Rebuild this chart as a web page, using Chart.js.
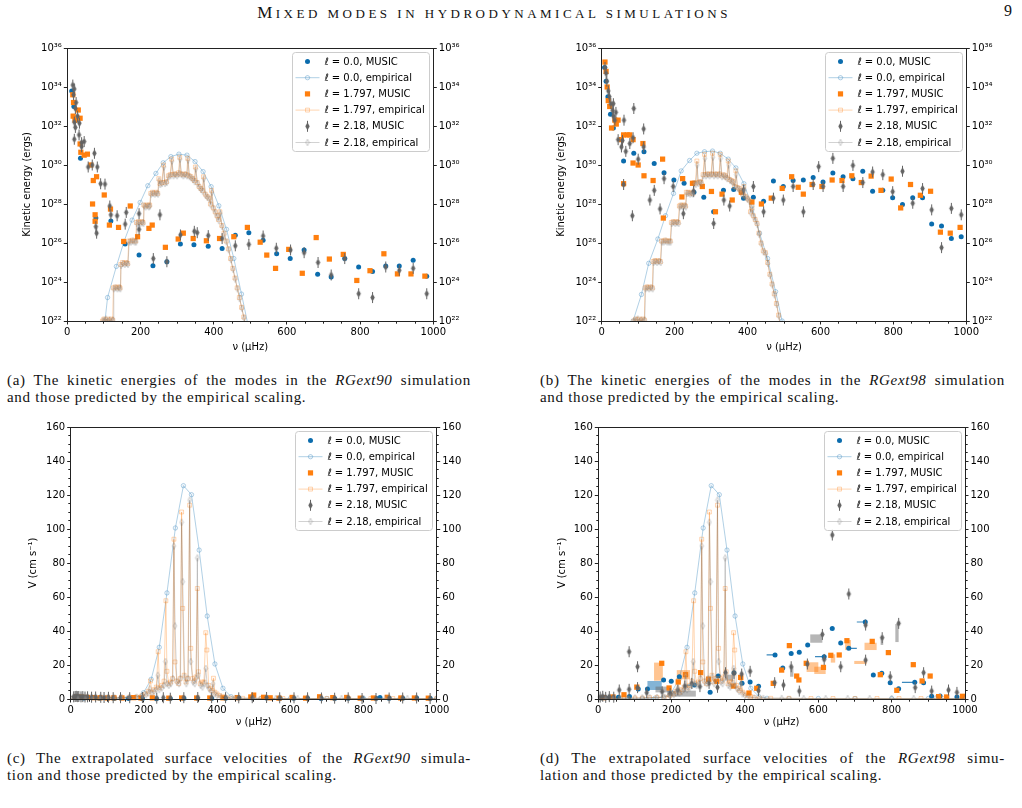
<!DOCTYPE html>
<html><head><meta charset="utf-8">
<script src="https://cdn.jsdelivr.net/npm/chart.js@4.4.1/dist/chart.umd.min.js"></script>
<style>
html,body{margin:0;padding:0;background:#fff;}
body{width:1022px;height:808px;position:relative;overflow:hidden;}
canvas.cv{position:absolute;}
#hdr{position:absolute;left:0;top:3px;width:988px;text-align:center;font:13px 'Liberation Serif',serif;letter-spacing:3.5px;color:#111;white-space:nowrap;}
#hdr .big{font-size:17px;}
#pg{position:absolute;left:1004px;top:2px;font:16px 'Liberation Serif',serif;color:#111;}
.cap{position:absolute;font:15px/17px 'Liberation Serif',serif;letter-spacing:0.7px;color:#111;}
.cap .j{display:block;text-align:justify;text-align-last:justify;}
</style></head>
<body>
<div id="hdr"><span class="big">M</span>IXED MODES IN HYDRODYNAMICAL SIMULATIONS</div>
<div id="pg">9</div>
<canvas id="cA" class="cv" width="500" height="330" style="left:0;top:30px"></canvas>
<canvas id="cB" class="cv" width="500" height="330" style="left:520px;top:30px"></canvas>
<canvas id="cC" class="cv" width="500" height="330" style="left:0;top:410px"></canvas>
<canvas id="cD" class="cv" width="500" height="330" style="left:520px;top:410px"></canvas>
<div class="cap" style="left:7px;top:372px;width:464px"><span class="j">(a) The kinetic energies of the modes in the <i>RGext90</i> simulation</span>and those predicted by the empirical scaling.</div>
<div class="cap" style="left:540px;top:372px;width:465px"><span class="j">(b) The kinetic energies of the modes in the <i>RGext98</i> simulation</span>and those predicted by the empirical scaling.</div>
<div class="cap" style="left:7px;top:750px;width:464px"><span class="j">(c) The extrapolated surface velocities of the <i>RGext90</i> simula-</span>tion and those predicted by the empirical scaling.</div>
<div class="cap" style="left:540px;top:750px;width:465px"><span class="j">(d) The extrapolated surface velocities of the <i>RGext98</i> simu-</span>lation and those predicted by the empirical scaling.</div>
<script>
// ---------- tick labels ----------
const nuTicks = [0, 200, 400, 600, 800, 1000];
const nuMinor = [50, 100, 150, 250, 300, 350, 450, 500, 550, 650, 700, 750, 850, 900, 950];
const keExp = [22, 24, 26, 28, 30, 32, 34, 36];
const vTicks = [0, 20, 40, 60, 80, 100, 120, 140, 160];
const vMinor = [5, 10, 15, 25, 30, 35, 45, 50, 55, 65, 70, 75, 85, 90, 95, 105, 110, 115, 125, 130, 135, 145, 150, 155];
const legendLabels = ['ℓ = 0.0, MUSIC', 'ℓ = 0.0, empirical', 'ℓ = 1.797, MUSIC', 'ℓ = 1.797, empirical', 'ℓ = 2.18, MUSIC', 'ℓ = 2.18, empirical'];

// ---------- (a) RGext90 kinetic energy [nu, E] ----------
const aMusicL0 = [[12,6.3e33],[18,1e33],[25,2e32],[36,2.2e30],[78,1.9e27],[119,1.35e27],[158,8.9e25],[196,2.4e25],[234,6.9e24],[272,1.1e25],[309,8.9e25],[346,8.1e25],[385,6.9e25],[423,5.2e25],[459,2.5e26],[496,3.4e26],[535,1.4e26],[572,2.8e25],[609,1.6e25],[647,4.4e25],[684,2.5e24],[721,1.8e24],[758,1.6e25],[796,5.9e24],[834,3.5e24],[870,6.6e24],[907,6.6e24],[945,1.3e25],[982,2e24]];
const aMusicL1 = [[15,4e33],[17,1.6e33],[16,3.2e32],[30,6.6e32],[21,2e32],[35,2.5e32],[35,1.2e31],[37,4.5e30],[46,3.2e30],[55,3.6e30],[64,1e30],[71,1.6e29],[80,2.5e29],[101,2.9e28],[69,1e28],[76,2.8e27],[76,1.3e27],[118,5.5e27],[115,8.3e26],[140,6.3e26],[172,7.9e27],[154,1.2e26],[192,2.1e26],[223,5.6e26],[232,8.3e26],[268,6e25],[303,1.6e26],[317,3.2e26],[344,1.7e26],[380,1.3e26],[416,1.7e26],[455,2.1e26],[492,6.3e26],[527,1.1e26],[545,2.4e25],[569,5e24],[605,4.7e25],[642,2.8e24],[680,1.9e26],[716,1.5e25],[754,2.6e25],[791,1.2e24],[827,3.8e24],[865,2.8e25],[902,2.6e24],[939,2.6e24],[977,2e24]];
const aMusicL2 = [[15,1.26e34],[19,7.9e33],[17,4e33],[24,1.6e33],[22,7.9e32],[28,3.2e32],[19,1.6e32],[22,8.5e31],[33,1.4e32],[19,2.1e31],[32,3.5e31],[39,1.4e31],[46,1.6e31],[39,8.7e30],[74,4e30],[57,7.9e29],[68,1e30],[82,7.9e29],[91,1.1e29],[103,1.05e29],[116,7.9e27],[119,2.8e27],[136,2.5e27],[161,3.7e27],[196,3.2e27],[253,2.8e27],[78,6.9e26],[80,3.2e26],[158,9.3e26],[196,5e26],[235,1.6e25],[272,1.1e25],[309,2.6e26],[347,4e26],[355,3.4e26],[385,2.4e26],[423,1.7e26],[459,7.2e25],[496,8.5e25],[535,2.3e26],[571,5.4e25],[610,4.4e25],[647,3.2e25],[685,1e25],[721,2.3e24],[758,1.6e25],[796,2.5e23],[834,1.6e23],[870,5.9e24],[907,4e24],[945,5e24],[982,2.5e23]];
const aEmpL0 = [[97,3e20],[103,1e22],[110,1.6e23],[134,6.3e24],[155,1.2e26],[177,1.5e27],[199,1.2e28],[220,8.7e28],[242,3.7e29],[262,1.3e30],[283,2.7e30],[305,3.6e30],[327,3.2e30],[349,1.5e30],[371,4.6e29],[393,7.8e28],[414,8.1e27],[435,5e26],[455,1.6e25],[476,2.4e23],[497,3.2e21],[510,1e20]];
const aEmpL1 = [[96,1e22],[100,1.26e22],[105,1.12e22],[110,1.26e22],[115,1e22],[120,1.26e22],[124,1.12e22],[126,5e23],[131,5.6e23],[136,5e23],[141,5.6e23],[144,5e23],[146,7.9e24],[151,1e25],[156,8.9e24],[161,1e25],[165,8.9e24],[168,1.26e26],[173,1.26e26],[178,1.4e26],[183,1.26e26],[187,1.26e26],[189,1.12e27],[194,1.26e27],[199,1.12e27],[204,1.26e27],[207,1.12e27],[209,8.9e27],[213,7.9e27],[218,8.9e27],[222,7.9e27],[225,8.9e27],[228,3.5e28],[233,4e28],[238,3.5e28],[243,4e28],[247,3.5e28],[250,2e29],[253,1.12e29],[258,1.26e29],[263,1e30],[266,1.26e29],[271,1.4e29],[276,2.8e29],[281,3.2e29],[285,2e30],[289,3.2e29],[294,3.5e29],[299,3.2e29],[304,4e29],[307,2.5e30],[311,3.5e29],[316,3.2e29],[321,3.5e29],[326,3.2e29],[329,2.2e30],[333,2.8e29],[338,2.5e29],[343,2e29],[347,1.6e29],[350,7.9e29],[355,1.26e29],[360,7.9e28],[365,6.3e28],[369,5e28],[372,2.5e29],[377,3.2e28],[382,2.5e28],[387,2e28],[391,1e28],[394,5e28],[399,6.3e27],[404,4e27],[409,2.5e27],[413,1.6e27],[417,4e27],[422,7.9e26],[428,3.2e26],[434,1.26e26],[440,5e25],[446,1.6e25],[452,5e24],[458,1.6e24],[464,5e23],[470,1.6e23],[476,5e22],[482,1.6e22],[488,4e21]];
const aEmpL2 = [[97,1e22],[101,1.12e22],[106,1.26e22],[111,1e22],[116,1.12e22],[121,1e22],[125,1.12e22],[127,4.5e23],[132,5e23],[137,4.5e23],[142,5e23],[145,4.5e23],[147,7.1e24],[152,8.9e24],[157,7.9e24],[162,8.9e24],[166,7.9e24],[169,1.12e26],[174,1.12e26],[179,1.26e26],[184,1.12e26],[188,1.12e26],[190,1e27],[195,1.12e27],[200,1e27],[205,1.12e27],[208,1e27],[210,7.9e27],[214,7.1e27],[219,7.9e27],[223,7.1e27],[226,7.9e27],[229,3.2e28],[234,3.5e28],[239,3.2e28],[244,3.5e28],[248,3.2e28],[251,1.6e29],[254,1e29],[259,1.12e29],[264,7.9e29],[267,1.12e29],[272,1.26e29],[277,2.5e29],[282,2.8e29],[286,1.6e30],[290,2.8e29],[295,3.2e29],[300,2.8e29],[305,3.5e29],[308,2e30],[312,3.2e29],[317,2.8e29],[322,3.2e29],[327,2.8e29],[330,1.8e30],[334,2.5e29],[339,2.2e29],[344,1.8e29],[348,1.4e29],[351,6.3e29],[356,1.12e29],[361,7.1e28],[366,5.6e28],[370,4.5e28],[373,2e29],[378,2.8e28],[383,2.2e28],[388,1.8e28],[392,8.9e27],[395,4e28],[400,5.6e27],[405,3.5e27],[410,2.2e27],[414,1.4e27],[418,3.2e27],[423,7.1e26],[429,2.8e26],[435,1.12e26],[441,4.5e25],[447,1.4e25],[453,4.5e24],[459,1.4e24],[465,4.5e23],[471,1.4e23],[477,4.5e22],[483,1.4e22],[489,3.5e21]];

// ---------- (b) RGext98 kinetic energy [nu, E] ----------
const bMusicL0 = [[8,1e35],[12,2e34],[17,3.2e33],[24,4e32],[32,7.9e31],[60,1.6e30],[88,4e30],[116,4.8e30],[144,1.2e30],[171,4e29],[198,1.7e29],[226,1.15e29],[253,4e28],[280,2.2e28],[307,4e27],[334,5e28],[362,5.6e28],[389,2e28],[416,2.2e28],[444,1.4e28],[471,1.5e29],[498,7.8e28],[525,1.6e29],[553,1.7e29],[580,2.3e29],[607,1.35e29],[634,3.9e29],[662,2.5e29],[689,2e29],[716,4.8e29],[743,4.5e28],[771,5e28],[798,2.1e28],[825,9.5e27],[853,2.1e28],[880,2.1e28],[905,9.3e26],[932,7.4e26],[959,1.7e26],[986,2.1e26]];
const bMusicL1 = [[9,1.9e35],[12,6.3e34],[15,1e34],[18,2e33],[22,1e33],[27,7.9e31],[36,2e32],[40,1.26e32],[45,2e32],[54,2e31],[60,3.5e31],[70,3.5e31],[77,3.5e31],[86,2e31],[86,1.26e30],[100,1e30],[113,1.26e31],[116,2.8e29],[141,1.6e29],[167,2e30],[169,1.9e27],[60,1.1e29],[220,2.3e28],[222,2e29],[249,1.15e29],[276,7.9e28],[301,4.4e28],[312,4e27],[330,3.2e28],[358,1.6e28],[383,4e28],[412,1.26e28],[438,1e28],[465,2e28],[495,6.3e28],[521,2.5e29],[539,7.2e28],[553,3.2e28],[577,1e29],[604,7.9e28],[632,1.7e29],[659,1.6e29],[686,2.8e29],[712,1.26e29],[739,2.7e29],[766,5e28],[794,1.9e29],[820,6.3e27],[847,1e29],[874,2.8e28],[902,4.5e28],[929,3.6e26],[956,3.2e26],[983,6.3e26]];
const bMusicL2 = [[9,1e35],[12,5e34],[14,2e34],[18,6.3e33],[21,3.2e33],[25,1.4e33],[30,6.3e32],[32,3.2e32],[36,2e32],[32,1.4e33],[39,5e32],[45,2e31],[54,8.5e30],[66,5e30],[57,1.8e31],[77,1.26e31],[88,7.9e32],[86,2.5e31],[61,2e32],[115,7.1e31],[115,8.5e30],[100,2e30],[60,1e29],[84,2.5e27],[132,1.6e28],[144,5e28],[160,5.6e27],[171,2e29],[196,7.9e28],[224,3.2e27],[252,4.5e28],[307,1e27],[335,1.6e28],[351,7.9e27],[389,5.2e28],[416,7.9e28],[444,4e27],[471,2e28],[498,1.6e28],[525,7.9e28],[553,4e27],[580,1e29],[595,8.3e29],[607,7.9e28],[634,2.2e30],[662,7.9e28],[689,9.5e29],[716,1.26e29],[743,4.4e29],[771,3.2e29],[798,4.3e28],[825,4.8e29],[853,1.1e28],[880,6.2e28],[905,5e27],[932,5.8e25],[959,6e27],[986,2.8e27]];
const bEmpL0 = [[80,3e20],[86,1e22],[109,2.3e23],[129,9.1e24],[154,1.6e26],[175,2.5e27],[197,3.5e28],[218,5e29],[241,1.7e30],[261,4e30],[282,4.8e30],[304,5.2e30],[325,4e30],[347,2e30],[368,7.1e29],[390,1.1e29],[412,7.9e27],[433,3.2e26],[455,1.6e25],[477,3.2e23],[495,1e22],[510,4e20]];
const bEmpL1 = [[88,1e22],[93,1.26e22],[98,1.12e22],[103,1.26e22],[108,1e22],[113,1.26e22],[117,1.12e22],[119,5e23],[124,5.6e23],[129,5e23],[134,5.6e23],[139,5e23],[141,1.12e25],[146,1.26e25],[151,1.12e25],[156,1.26e25],[161,1.12e25],[164,1.26e26],[169,1.26e26],[174,1.4e26],[179,1.26e26],[184,1.26e26],[188,1.26e26],[191,1.12e27],[196,1.26e27],[201,1.12e27],[206,1.26e27],[210,1.12e27],[213,7.9e27],[217,8.9e27],[222,7.9e27],[226,8.9e27],[230,7.9e27],[232,4e28],[237,4e28],[242,3.5e28],[246,4e28],[250,3.5e28],[253,1.26e29],[257,1.12e29],[261,1.6e30],[264,1.26e29],[269,1.4e29],[273,1.26e29],[278,3.2e29],[282,3.5e30],[285,3.2e29],[290,3.5e29],[295,3.2e29],[300,3.5e29],[304,4e30],[307,3.2e29],[312,3.5e29],[317,3.2e29],[322,3.5e29],[325,3.5e30],[329,2.8e29],[334,3.2e29],[339,2.8e29],[343,2.2e29],[347,1.6e30],[351,1.8e29],[356,1.6e29],[360,1.4e29],[364,7.9e28],[368,5e29],[372,7.1e28],[377,6.3e28],[381,5e28],[386,3.2e28],[390,7.9e28],[394,2.5e28],[399,2e28],[404,1.6e28],[408,4e27],[412,6.3e27],[416,2.5e27],[421,1.6e27],[426,1e27],[431,3.2e26],[437,1e26],[443,4e25],[449,3.2e25],[455,1e25],[461,2.5e24],[467,7.9e23],[473,2.5e23],[479,7.9e22],[485,2e22],[491,4e21]];
const bEmpL2 = [[89,1e22],[94,1.12e22],[99,1.26e22],[104,1e22],[109,1.12e22],[114,1e22],[118,1.12e22],[120,4.5e23],[125,5e23],[130,4.5e23],[135,5e23],[140,4.5e23],[142,1e25],[147,1.12e25],[152,1e25],[157,1.12e25],[162,1e25],[165,1.12e26],[170,1.12e26],[175,1.26e26],[180,1.12e26],[185,1.12e26],[189,1.12e26],[192,1e27],[197,1.12e27],[202,1e27],[207,1.12e27],[211,1e27],[214,7.1e27],[218,7.9e27],[223,7.1e27],[227,7.9e27],[231,7.1e27],[233,3.5e28],[238,3.5e28],[243,3.2e28],[247,3.5e28],[251,3.2e28],[254,1.12e29],[258,1e29],[262,1e30],[265,1.12e29],[270,1.26e29],[274,1.12e29],[279,2.8e29],[283,2.2e30],[286,2.8e29],[291,3.2e29],[296,2.8e29],[301,3.2e29],[305,2.5e30],[308,2.8e29],[313,3.2e29],[318,2.8e29],[323,3.2e29],[326,2.2e30],[330,2.5e29],[335,2.8e29],[340,2.5e29],[344,2e29],[348,1e30],[352,1.6e29],[357,1.4e29],[361,1.26e29],[365,7.1e28],[369,3.2e29],[373,6.3e28],[378,5.6e28],[382,4.5e28],[387,2.8e28],[391,5e28],[395,2.2e28],[400,1.8e28],[405,1.4e28],[409,3.5e27],[413,5e27],[417,2.2e27],[422,1.4e27],[427,8.9e26],[432,2.8e26],[438,8.9e25],[444,3.5e25],[450,2.8e25],[456,8.9e24],[462,2.2e24],[468,7.1e23],[474,2.2e23],[480,7.1e22],[486,1.8e22],[492,3.5e21]];

// ---------- (c) RGext90 surface velocity [nu, V] ----------
const cMusicL0 = [[12,0.9],[18,1.1],[25,0.8],[36,0.6],[78,0.4],[119,0.3],[158,0.3],[196,0.2],[234,0.2],[272,0.3],[309,0.4],[346,0.4],[385,0.3],[423,0.4],[459,0.7],[496,0.8],[535,0.6],[572,0.5],[609,0.4],[647,0.5],[684,0.3],[721,0.3],[758,0.5],[796,0.4],[834,0.4],[845,0.9],[870,0.5],[907,0.5],[945,0.6],[982,0.4]];
const cMusicL1 = [[15,1.2],[21,1.0],[30,1.1],[46,0.9],[64,0.8],[80,0.7],[101,0.6],[118,0.7],[140,0.6],[172,0.8],[192,0.6],[223,0.7],[268,0.5],[303,0.6],[344,0.6],[380,0.6],[416,0.7],[455,0.8],[492,1.2],[500,2.3],[527,1.0],[545,0.7],[569,0.5],[605,0.9],[642,0.5],[680,1.3],[716,0.8],[754,0.9],[791,0.5],[827,0.6],[865,1.0],[902,0.6],[939,0.6],[977,0.5]];
const cMusicL2 = [[8,1.3],[12,1.5],[15,1.6],[19,1.4],[22,1.5],[28,1.3],[33,1.4],[39,1.2],[46,1.3],[57,1.1],[68,1.2],[82,1.0],[91,0.9],[103,1.0],[116,0.8],[136,0.8],[161,0.8],[196,0.9],[235,0.5],[253,0.8],[272,0.5],[309,0.8],[347,0.9],[385,0.8],[423,0.8],[459,0.7],[496,0.8],[535,0.9],[571,0.7],[610,0.7],[647,0.7],[685,0.6],[721,0.5],[758,0.7],[796,0.3],[834,0.3],[870,0.6],[907,0.6],[945,0.6],[982,0.3]];
// empirical surface velocities (same scaling for both runs)
const vEmpL0 = [[0,0.2],[40,0.2],[80,0.3],[120,0.3],[155,0.5],[177,1.0],[199,3.7],[220,11.6],[242,30.4],[263,62.4],[286,100.6],[308,125.5],[330,120.2],[351,87.6],[373,48.8],[394,20.6],[416,6.3],[438,1.4],[460,0.4],[520,0.3],[600,0.3],[700,0.3],[800,0.3],[900,0.3],[1000,0.3]];
const vEmpL1 = [[0,0.3],[20,0.3],[40,0.4],[60,0.4],[80,0.5],[100,0.6],[120,0.6],[140,0.8],[160,1.0],[180,1.2],[195,2.0],[205,3.0],[212,4.5],[218,10.6],[222,4.0],[228,5.5],[234,7.0],[239,27.8],[243,6.5],[249,8.0],[255,10.5],[260,57.8],[263,16.3],[268,9.0],[273,10.0],[278,12.0],[282,94.0],[285,21.8],[290,10.5],[295,9.0],[299,12.0],[303,110.0],[306,53.3],[310,14.0],[315,10.0],[320,12.0],[325,114.0],[328,29.8],[333,12.0],[338,10.5],[342,13.0],[346,65.0],[349,16.0],[354,9.0],[359,10.0],[364,10.0],[369,39.0],[372,28.8],[377,8.0],[382,6.0],[386,5.0],[390,12.2],[394,4.0],[400,3.0],[407,2.0],[415,1.5],[425,0.8],[440,0.5],[470,0.4],[520,0.4],[580,0.3],[640,0.3],[700,0.3],[760,0.3],[820,0.3],[880,0.3],[940,0.3],[1000,0.3]];
const vEmpL2 = [[0,0.3],[20,0.4],[40,0.4],[60,0.5],[80,0.5],[100,0.6],[120,0.7],[140,0.8],[160,0.9],[180,1.1],[196,1.8],[206,2.5],[212,3.5],[216,6.0],[221,3.5],[228,4.5],[234,5.5],[238,14.0],[242,5.5],[249,6.5],[255,8.0],[259,22.0],[263,9.0],[268,8.0],[274,9.0],[279,12.0],[282,90.0],[285,43.0],[290,10.0],[296,9.0],[300,12.0],[303,104.0],[306,69.0],[311,13.0],[316,9.0],[321,12.0],[325,117.0],[328,22.0],[334,10.0],[339,9.0],[343,12.0],[346,83.0],[349,14.0],[355,8.0],[360,7.0],[365,9.0],[369,18.0],[373,8.0],[378,6.0],[384,4.5],[389,9.0],[393,3.0],[400,2.0],[410,1.2],[425,0.6],[450,0.4],[500,0.4],[560,0.3],[620,0.3],[680,0.3],[740,0.3],[800,0.3],[860,0.3],[920,0.3],[1000,0.3]];

// ---------- (d) RGext98 surface velocity [nu, V] ----------
const dMusicL0 = [[10,0.6],[30,0.8],[55,1.0],[85,1.5],[109,5.9],[134,5.9],[178,11.2],[199,10.4],[221,13.1],[262,8.2],[305,3.9],[327,13.5],[370,15.5],[392,9.2],[414,10],[437,7.5],[482,25.9],[503,18.2],[526,26.7],[548,27.5],[571,31.8],[616,24.9],[638,41.4],[661,32.9],[683,29.8],[728,45.3],[750,14.1],[773,15.1],[796,9.6],[819,6.1],[863,9.8],[887,9.6],[909,1.6],[932,1.8],[978,1.2]];
const dMusicL1 = [[15,0.8],[40,1.2],[70,2.5],[105,7],[173,21],[193,6.5],[218,10],[238,14.3],[279,15.5],[301,11.6],[323,10.4],[368,7.6],[388,12.7],[411,3.5],[432,6.3],[477,9.2],[500,17],[521,31.4],[541,13.5],[547,11.2],[567,21],[614,18.6],[634,25.7],[657,25.9],[678,34.3],[747,33.9],[769,14.3],[791,27.3],[814,5.1],[859,20.2],[883,10.6],[905,13.5],[928,1.4],[950,1.2],[993,1.6]];
const dMusicL2 = [[5,1.2],[12,1.6],[20,1.0],[30,1.4],[42,1.1],[57,5.3],[84,27.8],[84,5.7],[107,19],[107,6.7],[132,3.7],[174,4.3],[196,3.3],[217,5.3],[236,7.6],[255,9.2],[277,7.3],[302,9.2],[325,6.9],[347,15.5],[370,15.1],[391,14.7],[414,16.3],[437,4.9],[481,9.6],[505,8.2],[526,19],[548,4.7],[570,20.6],[611,38],[616,23.3],[638,96.5],[661,19],[683,61.8],[729,43.5],[729,22.9],[774,36.1],[796,13.1],[819,44.5],[864,6.7],[887,15.5],[909,4.7],[955,5.3],[978,3.9]];
// uncertainty boxes [nu1, nu2, V1, V2] and horizontal bars [nu1, nu2, V]
const dBoxL0 = [[134,173,5.3,10.6]];
const dBoxL1 = [[152,176,10.8,21.4],[726,759,28.8,33.1],[568,600,15.9,21.6],[589,620,14.7,19],[698,732,20.6,22.4],[673,689,28.8,34.7],[634,646,21.4,26.3],[214,250,11.6,17]];
const dBoxL2 = [[578,611,33.1,38],[810,819,33.5,44.1],[156,196,3.9,7.3],[188,266,1.4,4.9],[346,368,10.8,14.3],[523,532,13.1,19],[770,777,31.8,36.7]];
const dBarL0 = [[459,482,25.9],[705,728,45.3],[591,616,24.9],[683,705,29.8],[828,863,9.8],[241,262,8.2]];

// ---------- styling ----------
const C_BLUE = '#0b6cad', C_ORANGE = '#ff7f0e', C_GRAY = '#646464';
const E_BLUE = 'rgba(31,119,180,0.35)', E_ORANGE = 'rgba(255,127,14,0.32)', E_GRAY = 'rgba(95,95,95,0.28)';
const SUP = {'0':'⁰','1':'¹','2':'²','3':'³','4':'⁴','5':'⁵','6':'⁶','7':'⁷','8':'⁸','9':'⁹','-':'⁻'};
const sup = n => String(n).split('').map(c => SUP[c]).join('');

function diamondImg(fill, stroke, w, h, ext, lw) {
  const c = document.createElement('canvas');
  const W = Math.ceil(w + 2), H = Math.ceil(h + 2 * ext + 2);
  c.width = W; c.height = H;
  const g = c.getContext('2d');
  const cx = W / 2, cy = H / 2;
  if (ext) { g.strokeStyle = fill; g.lineWidth = 1; g.beginPath(); g.moveTo(cx, cy - h / 2 - ext); g.lineTo(cx, cy + h / 2 + ext); g.stroke(); }
  g.beginPath(); g.moveTo(cx, cy - h / 2); g.lineTo(cx + w / 2, cy); g.lineTo(cx, cy + h / 2); g.lineTo(cx - w / 2, cy); g.closePath();
  if (fill) { g.fillStyle = fill; g.fill(); }
  if (stroke) { g.strokeStyle = stroke; g.lineWidth = lw; g.stroke(); }
  return c;
}
const mkDiamond = diamondImg(C_GRAY, null, 4.4, 8, 1.5, 0);
const mkDiamondEmp = diamondImg('rgba(200,200,200,0.25)', 'rgba(100,100,100,0.35)', 3.6, 6.5, 0, 0.8);

const S = {
  m0: {pointStyle: 'circle', pointRadius: 2.5, backgroundColor: C_BLUE, pointBackgroundColor: C_BLUE, pointBorderWidth: 0, borderWidth: 0},
  m1: {pointStyle: 'rect', pointRadius: 3.7, backgroundColor: C_ORANGE, pointBackgroundColor: C_ORANGE, pointBorderWidth: 0, borderWidth: 0},
  m2: {pointStyle: mkDiamond, pointRadius: 4, pointBorderWidth: 0, borderWidth: 0},
  e0: {showLine: true, borderColor: E_BLUE, borderWidth: 1, pointStyle: 'circle', pointRadius: 2.2, pointBorderColor: E_BLUE, pointBackgroundColor: 'rgba(31,119,180,0.06)', pointBorderWidth: 0.9},
  e1: {showLine: true, borderColor: E_ORANGE, borderWidth: 1, pointStyle: 'rect', pointRadius: 2.8, pointBorderColor: E_ORANGE, pointBackgroundColor: 'rgba(255,127,14,0.06)', pointBorderWidth: 0.9},
  e2: {showLine: true, borderColor: E_GRAY, borderWidth: 1, pointStyle: mkDiamondEmp, pointRadius: 3, pointBorderWidth: 0}
};
const legendEntries = [
  {label: legendLabels[0], marker: {t: 'circle', r: 2.5, fill: C_BLUE}},
  {label: legendLabels[1], line: E_BLUE, marker: {t: 'circle', r: 2.2, fill: 'rgba(31,119,180,0.06)', stroke: E_BLUE}},
  {label: legendLabels[2], marker: {t: 'square', s: 5.2, fill: C_ORANGE}},
  {label: legendLabels[3], line: E_ORANGE, marker: {t: 'square', s: 4, fill: 'rgba(255,127,14,0.06)', stroke: E_ORANGE}},
  {label: legendLabels[4], marker: {t: 'img', img: mkDiamond}},
  {label: legendLabels[5], line: E_GRAY, marker: {t: 'img', img: mkDiamondEmp}}
];

const align = p => Math.round(p - 0.5) + 0.5;
function drawMarker(ctx, m, x, y) {
  ctx.save();
  if (m.t === 'circle') {
    ctx.beginPath(); ctx.arc(x, y, m.r, 0, Math.PI * 2);
    if (m.fill) { ctx.fillStyle = m.fill; ctx.fill(); }
    if (m.stroke) { ctx.strokeStyle = m.stroke; ctx.lineWidth = 0.9; ctx.stroke(); }
  } else if (m.t === 'square') {
    ctx.beginPath(); ctx.rect(x - m.s / 2, y - m.s / 2, m.s, m.s);
    if (m.fill) { ctx.fillStyle = m.fill; ctx.fill(); }
    if (m.stroke) { ctx.strokeStyle = m.stroke; ctx.lineWidth = 0.9; ctx.stroke(); }
  } else {
    ctx.drawImage(m.img, x - m.img.width / 2, y - m.img.height / 2);
  }
  ctx.restore();
}

const deco = {
  id: 'deco',
  beforeDatasetsDraw(chart, args, o) {
    const {ctx, chartArea: ca} = chart;
    const xs = chart.scales.x, ys = chart.scales.y;
    ctx.save();
    ctx.beginPath(); ctx.rect(ca.left, ca.top, ca.right - ca.left, ca.bottom - ca.top); ctx.clip();
    (o.boxes || []).forEach(g => {
      ctx.fillStyle = g.color;
      g.list.forEach(b => {
        const x1 = xs.getPixelForValue(b[0]), x2 = xs.getPixelForValue(b[1]);
        const y1 = ys.getPixelForValue(b[2]), y2 = ys.getPixelForValue(b[3]);
        ctx.fillRect(x1, y2, x2 - x1, y1 - y2);
      });
    });
    (o.bars || []).forEach(g => {
      ctx.strokeStyle = g.color; ctx.lineWidth = 1.2;
      g.list.forEach(b => {
        const x1 = xs.getPixelForValue(b[0]), x2 = xs.getPixelForValue(b[1]), yy = ys.getPixelForValue(b[2]);
        ctx.beginPath(); ctx.moveTo(x1, yy); ctx.lineTo(x2, yy); ctx.stroke();
      });
    });
    ctx.restore();
  },
  afterDraw(chart, args, o) {
    const {ctx, chartArea: ca} = chart;
    const xs = chart.scales.x, ys = chart.scales.y;
    ctx.save();
    ctx.strokeStyle = '#222'; ctx.lineWidth = 1;
    const L = align(ca.left), R = align(ca.right), T = align(ca.top), B = align(ca.bottom);
    ctx.strokeRect(L, T, R - L, B - T);
    ctx.beginPath();
    nuMinor.forEach(v => { const p = align(xs.getPixelForValue(v)); ctx.moveTo(p, B); ctx.lineTo(p, B + 2.2); });
    if (o.minorY) {
      o.minorY.forEach(v => { const p = align(ys.getPixelForValue(v)); ctx.moveTo(L - 2.2, p); ctx.lineTo(L, p); ctx.moveTo(R, p); ctx.lineTo(R + 2.2, p); });
    }
    ctx.stroke();
    // legend
    const bw = 137, bh = 99;
    const bx = Math.round(ca.right - 4.5 - bw) + 0.5, by = Math.round(ca.top + 4) + 0.5;
    ctx.beginPath();
    if (ctx.roundRect) ctx.roundRect(bx, by, bw, bh, 3); else ctx.rect(bx, by, bw, bh);
    ctx.fillStyle = 'rgba(255,255,255,0.8)'; ctx.fill();
    ctx.strokeStyle = '#cccccc'; ctx.lineWidth = 1; ctx.stroke();
    ctx.font = '10px "DejaVu Sans"'; ctx.textBaseline = 'middle'; ctx.textAlign = 'left';
    legendEntries.forEach((e, i) => {
      const yy = by + 9 + i * 16.2;
      if (e.line) { ctx.strokeStyle = e.line; ctx.lineWidth = 1; ctx.beginPath(); ctx.moveTo(bx + 3, yy); ctx.lineTo(bx + 27, yy); ctx.stroke(); }
      drawMarker(ctx, e.marker, bx + 15, yy);
      ctx.fillStyle = '#000';
      ctx.fillText(e.label, bx + 32, yy + 0.5);
    });
    ctx.restore();
  }
};

Chart.defaults.font.family = "'DejaVu Sans', sans-serif";
Chart.defaults.font.size = 10;
Chart.defaults.color = '#000';

const pts = arr => arr.map(p => ({x: p[0], y: p[1]}));

function buildPanel(cfg) {
  const isLog = cfg.log;
  const yAxis = pos => ({
    type: isLog ? 'logarithmic' : 'linear', position: pos,
    min: isLog ? 1e22 : 0, max: isLog ? 1e36 : 160,
    afterBuildTicks: s => { s.ticks = (isLog ? keExp.map(e => Math.pow(10, e)) : vTicks).map(v => ({value: v})); },
    afterFit: s => { s.width = pos === 'left' ? cfg.yW : 40; },
    ticks: {callback: v => isLog ? '10' + sup(Math.round(Math.log10(v))) : String(v), padding: 2, color: '#000', font: {size: 10}, autoSkip: false},
    grid: {display: true, drawOnChartArea: false, drawTicks: true, tickLength: 3.5, color: '#222', lineWidth: 1},
    border: {display: false},
    title: pos === 'left' ? {display: true, text: cfg.yTitle, padding: 0, color: '#000', font: {size: 10}} : {display: false}
  });
  const ds = (arr, st, order, clip) => Object.assign({data: pts(arr), order: order}, st, clip ? {} : {clip: false});
  new Chart(document.getElementById(cfg.id), {
    type: 'scatter',
    data: {datasets: [
      ds(cfg.m0, S.m0, 5, false), ds(cfg.e0, S.e0, 4, true),
      ds(cfg.m1, S.m1, 3, false), ds(cfg.e1, S.e1, 2, true),
      ds(cfg.m2, S.m2, 1, false), ds(cfg.e2, S.e2, 0, true)
    ]},
    options: {
      responsive: false, maintainAspectRatio: false, animation: false, events: [],
      devicePixelRatio: 1,
      layout: {padding: cfg.pad},
      scales: {
        x: {type: 'linear', min: 0, max: 1000,
            afterBuildTicks: s => { s.ticks = nuTicks.map(v => ({value: v})); },
            afterFit: s => { s.height = cfg.xH; },
            ticks: {callback: v => String(v), padding: 2, color: '#000', font: {size: 10}, autoSkip: false, maxRotation: 0},
            grid: {display: true, drawOnChartArea: false, drawTicks: true, tickLength: 3.5, color: '#222', lineWidth: 1},
            border: {display: false},
            title: {display: true, text: 'ν (μHz)', padding: 0, color: '#000', font: {size: 10}}},
        y: yAxis('left'),
        y2: yAxis('right')
      },
      plugins: {
        legend: {display: false}, tooltip: {enabled: false},
        deco: {minorY: isLog ? null : vMinor, boxes: cfg.boxes || [], bars: cfg.bars || []}
      }
    },
    plugins: [deco]
  });
}

buildPanel({id: 'cA', log: true, yW: 46.3, xH: 32, pad: {left: 21, right: 26.7, top: 18, bottom: 7}, yTitle: 'Kinetic energy (ergs)',
  m0: aMusicL0, e0: aEmpL0, m1: aMusicL1, e1: aEmpL1, m2: aMusicL2, e2: aEmpL2});
buildPanel({id: 'cB', log: true, yW: 46.7, xH: 32, pad: {left: 35, right: 13.7, top: 18, bottom: 7}, yTitle: 'Kinetic energy (ergs)',
  m0: bMusicL0, e0: bEmpL0, m1: bMusicL1, e1: bEmpL1, m2: bMusicL2, e2: bEmpL2});
buildPanel({id: 'cC', log: false, yW: 43.7, xH: 29, pad: {left: 27, right: 23.3, top: 17, bottom: 12}, yTitle: 'V (cm s' + sup(-1) + ')',
  m0: cMusicL0, e0: vEmpL0, m1: cMusicL1, e1: vEmpL1, m2: cMusicL2, e2: vEmpL2});
buildPanel({id: 'cD', log: false, yW: 42.3, xH: 29, pad: {left: 36, right: 15, top: 17, bottom: 12}, yTitle: 'V (cm s' + sup(-1) + ')',
  m0: dMusicL0, e0: vEmpL0, m1: dMusicL1, e1: vEmpL1, m2: dMusicL2, e2: vEmpL2,
  boxes: [{color: 'rgba(31,119,180,0.55)', list: dBoxL0}, {color: 'rgba(255,127,14,0.45)', list: dBoxL1}, {color: 'rgba(110,110,110,0.5)', list: dBoxL2}],
  bars: [{color: 'rgba(11,108,173,0.8)', list: dBarL0}]});
</script>
</body></html>
